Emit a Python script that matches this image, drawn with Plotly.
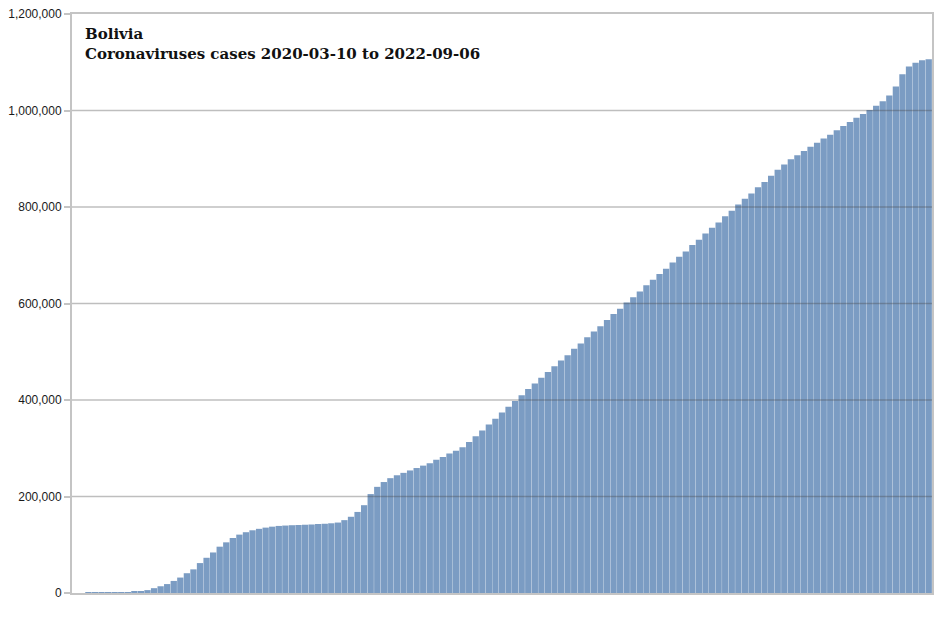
import pandas as pd
import plotly.graph_objects as go

# cumulative cases, one value per week starting 2020-03-10
start_date = "2020-03-10"
weekly_cases = [
    2, 10, 70, 150, 250, 450, 700, 1100, 1800, 2500,
    3500, 6000, 10000, 14000, 18500, 25000, 32000, 41000, 49000, 62000,
    73000, 84000, 96000, 105000, 114000, 121000, 126000, 130000, 133000, 135500,
    137500, 139000, 139800, 140500, 141000, 141500, 142000, 143000, 143500, 144500,
    146000, 151000, 158000, 168000, 182000, 205000, 220000, 230000, 238000, 244000,
    249000, 254000, 259000, 264000, 269000, 276000, 282000, 289000, 295000, 302000,
    313000, 325000, 337000, 349000, 361000, 374000, 386000, 398000, 410000, 423000,
    434000, 446000, 458000, 470000, 482000, 493000, 506000, 517000, 530000, 542000,
    553000, 566000, 578000, 589000, 602000, 613000, 625000, 638000, 649000, 661000,
    672000, 685000, 697000, 708000, 721000, 732000, 745000, 757000, 768000, 781000,
    792000, 805000, 817000, 828000, 841000, 852000, 865000, 877000, 888000, 899000,
    907000, 916000, 925000, 933000, 942000, 950000, 959000, 968000, 976000, 985000,
    993000, 1001000, 1010000, 1019000, 1031000, 1050000, 1075000, 1091000, 1099000, 1104000,
    1106000,
]
dates = pd.date_range(start_date, periods=len(weekly_cases), freq="7D")

y_ticks = [0, 200000, 400000, 600000, 800000, 1000000, 1200000]
y_labels = ["0", "200,000", "400,000", "600,000", "800,000", "1,000,000", "1,200,000"]

fig = go.Figure()
fig.add_trace(go.Bar(
    x=dates, y=weekly_cases,
    marker=dict(color="#7b9cc3", line=dict(width=0)),
    hoverinfo="x+y",
))

# grid drawn over the bars, like the original
grid = [dict(type="line", xref="paper", yref="y", x0=0, x1=1, y0=v, y1=v,
             line=dict(color="rgba(70,70,70,0.35)", width=1.5), layer="above")
        for v in y_ticks[1:-1]]

# page body has an 8px margin, so the figure is a bit smaller than the window
fig.update_layout(
    width=934, height=609,
    margin=dict(l=64, r=10, t=6, b=24),
    plot_bgcolor="white", paper_bgcolor="white",
    bargap=0.04,
    showlegend=False,
    shapes=grid,
    xaxis=dict(
        showticklabels=False, showgrid=False, zeroline=False,
        showline=True, linecolor="#c4c4c4", linewidth=2, mirror=True,
        ticks="", automargin=False,
    ),
    yaxis=dict(
        range=[0, 1200000],
        tickvals=y_ticks, ticktext=y_labels,
        showgrid=False, zeroline=False, automargin=False,
        ticklabeloverflow="allow",
        showline=True, linecolor="#c4c4c4", linewidth=2, mirror=True,
        ticks="outside", ticklen=6, tickcolor="#c4c4c4", tickwidth=2,
        tickfont=dict(family="Liberation Sans", size=12, color="#1a1a1a"),
    ),
    annotations=[dict(
        xref="paper", yref="paper", x=0.013, y=0.985,
        xanchor="left", yanchor="top", align="left", showarrow=False,
        text="<b>Bolivia<br>Coronaviruses cases 2020-03-10 to 2022-09-06</b>",
        font=dict(family="DejaVu Serif", size=15, color="#111111"),
    )],
)

fig.write_html("out.html")
